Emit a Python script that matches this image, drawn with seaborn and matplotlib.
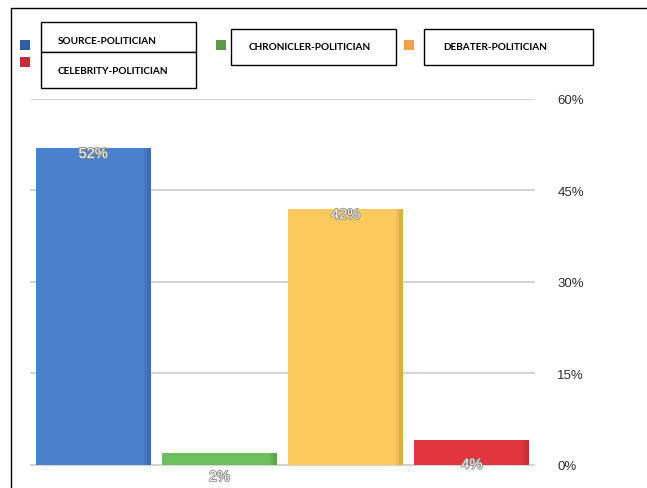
import matplotlib
matplotlib.use("Agg")
import matplotlib.pyplot as plt
import matplotlib.patheffects as pe
from matplotlib.patches import Rectangle
from matplotlib.lines import Line2D
from matplotlib.colors import to_rgb
import seaborn as sns
import pandas as pd

# Data
categories = ["SOURCE-POLITICIAN", "CHRONICLER-POLITICIAN", "DEBATER-POLITICIAN", "CELEBRITY-POLITICIAN"]
values = [52, 2, 42, 4]
value_labels = ["52%", "2%", "42%", "4%"]
bar_colors = ["#4a80cc", "#6cc05c", "#fdc95c", "#e2363f"]
legend_colors = ["#2f5f9f", "#5a9a48", "#eda447", "#c62d3a"]
yticks = [0, 15, 30, 45, 60]
ytick_labels = ["0%", "15%", "30%", "45%", "60%"]

W, H = 647, 489
sns.set_theme(style="white")
plt.rcParams["font.family"] = ["Liberation Sans", "DejaVu Sans"]

fig = plt.figure(figsize=(W / 100, H / 100), dpi=100)
fig.patch.set_facecolor("white")

# axes in pixel space: left 30, right 535, 60% at y=100, -2 at y=478
def px_axes(x0, y0, x1, y1):
    return fig.add_axes([x0 / W, 1 - y1 / H, (x1 - x0) / W, (y1 - y0) / H])

ax = px_axes(30, 100, 535, 478)
df = pd.DataFrame({"cat": categories, "val": values})
sns.barplot(data=df, x="cat", y="val", hue="cat", palette=bar_colors,
            order=categories, hue_order=categories, legend=False,
            width=0.91, saturation=1, ax=ax, zorder=3)

# soft darker right-hand edge on each bar for a bit of depth
for p in list(ax.patches):
    p.set_edgecolor("none")
    x, y = p.get_x(), p.get_y()
    w, h = p.get_width(), p.get_height()
    r, g, b = to_rgb(p.get_facecolor())
    for frac, k in [(0.06, 0.94), (0.035, 0.86)]:
        ax.add_patch(Rectangle((x + w * (1 - frac), y), w * frac, h,
                               facecolor=(r * k, g * k, b * k), edgecolor="none", zorder=4))

ax.set_xlim(-0.5, 3.5)
ax.set_ylim(-2, 60)
for t in yticks:
    ax.axhline(t, color="#d2d2d2", lw=1.4, zorder=1)
ax.set_yticks(yticks)
ax.set_yticklabels(ytick_labels)
ax.yaxis.tick_right()
ax.tick_params(axis="y", length=0, pad=16, labelsize=9.5, labelcolor="#2e2e2e")
ax.set_xticks([])
ax.set_xlabel("")
ax.set_ylabel("")
for s in ax.spines.values():
    s.set_visible(False)
ax.patch.set_alpha(0)

# value labels
for i, (v, lab) in enumerate(zip(values, value_labels)):
    y = v - 1 if v > 10 else v - 4
    ax.text(i, y, lab, ha="center", va="center", fontsize=10.5, color="#f7f7f7",
            zorder=6, path_effects=[pe.withStroke(linewidth=1.2, foreground="#8a8a8a")])

# outer frame lines (left and top)
fig.add_artist(Line2D([11 / W, 11 / W], [0, 1 - 9 / H], color="black", lw=1.0, transform=fig.transFigure))
fig.add_artist(Line2D([11 / W, 1], [1 - 9 / H, 1 - 9 / H], color="black", lw=1.0, transform=fig.transFigure))

# legend boxes and markers
def box(x0, y0, x1, y1):
    fig.add_artist(Rectangle((x0 / W, 1 - y1 / H), (x1 - x0) / W, (y1 - y0) / H,
                             transform=fig.transFigure, facecolor="white",
                             edgecolor="black", lw=1.0))

def square(x0, y0, color):
    fig.add_artist(Rectangle((x0 / W, 1 - (y0 + 10) / H), 10 / W, 10 / H,
                             transform=fig.transFigure, facecolor=color, edgecolor="none"))

def label(x, y, text):
    fig.text(x / W, 1 - y / H, text, fontsize=7.2, fontweight="bold",
             family=["Lato", "DejaVu Sans"], color="black", ha="left", va="center")

box(41, 23, 196, 53)
box(41, 53, 196, 89)
box(231, 30, 396, 66)
box(424, 30, 593, 66)

square(20, 41, legend_colors[0])
square(20, 58, legend_colors[3])
square(216, 41, legend_colors[1])
square(404, 41, legend_colors[2])

label(58, 41, categories[0])
label(58, 72, categories[3])
label(249, 47, categories[1])
label(443, 47, categories[2])

fig.savefig("out.png", dpi=100, facecolor="white")
